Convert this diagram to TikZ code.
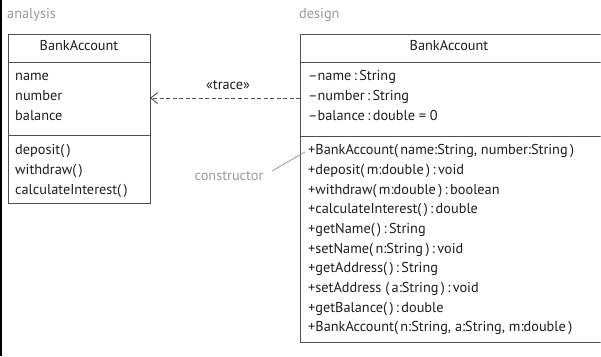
\documentclass[tikz,border=0pt]{standalone}
\usepackage{fontspec}
\setmainfont{PT Sans}
\usetikzlibrary{arrows.meta}
\definecolor{boxline}{HTML}{505050}
\definecolor{txt}{HTML}{1E1E1E}
\definecolor{lbl}{HTML}{9A9A9A}
\begin{document}
\begin{tikzpicture}[x=1pt,y=-1pt,
  every node/.style={font=\fontsize{14.3}{16}\selectfont, text=txt, inner sep=0pt,
    text height=10pt, text depth=3pt},
  member/.style={anchor=west},
  title/.style={anchor=center},
  caption/.style={anchor=west, text=lbl},
  umlbox/.style={draw=boxline, line width=0.9pt},
]
\useasboundingbox (0,0) rectangle (601,356);
\fill[white] (0,0) rectangle (601,356);
\draw[black, line width=1.5pt] (0.75,0) -- (0.75,356);

% captions
\node[caption] (an) at (7,15) {analysis};
\node[caption] (de) at (299,15) {design};

% left box
\draw[umlbox] (8,34) rectangle (150,203);
\draw[umlbox] (8,62) -- (150,62);
\draw[umlbox] (8,135) -- (150,135);
\node[title] (lt) at (79,47) {BankAccount};
\node[member] (l1) at (15,77) {name};
\node[member] (l2) at (15,97) {number};
\node[member] (l3) at (15,117) {balance};
\node[member] (l4) at (15,151) {deposit(\,)};
\node[member] (l5) at (15,171) {withdraw(\,)};
\node[member] (l6) at (15,190.5) {calculateInterest(\,)};
\coordinate (lr) at (150,98);

% right box
\begin{scope}
\clip (0,0) rectangle (600.5,356);
\draw[umlbox] (300,34) rectangle (606,342);
\draw[umlbox] (300,62) -- (606,62);
\draw[umlbox] (300,136) -- (606,136);
\end{scope}
\node[title] (rt) at (449,47) {BankAccount};
\node[member] (r1) at (308,77) {–name\,:\,String};
\node[member] (r2) at (308,97) {–number\,:\,String};
\node[member] (r3) at (308,117) {–balance\,:\,double = 0};
\node[member] (m1) at (308,151) {+BankAccount(\,name:String, number:String\,)};
\node[member] (m2) at (308,171) {+deposit(\,m:double\,)\,:\,void};
\node[member] (m3) at (308,190.5) {+withdraw(\,m:double\,)\,:\,boolean};
\node[member] (m4) at (308,210) {+calculateInterest(\,)\,:\,double};
\node[member] (m5) at (308,230) {+getName(\,)\,:\,String};
\node[member] (m6) at (308,249.5) {+setName(\,n:String\,)\,:\,void};
\node[member] (m7) at (308,269) {+getAddress(\,)\,:\,String};
\node[member] (m8) at (308,289) {+setAddress (\,a:String\,)\,:\,void};
\node[member] (m9) at (308,308.5) {+getBalance(\,)\,:\,double};
\node[member] (m10) at (308,328) {+BankAccount(\,n:String, a:String, m:double\,)};
\coordinate (rl) at (300,98);

% trace dependency
\draw[boxline, line width=0.8pt, dashed, dash pattern=on 4pt off 2.5pt,
  -{Straight Barb[length=7pt,width=11pt,line width=0.9pt]}] (rl) -- (lr);
\node (tr) at (228,86) {«trace»};

% constructor note
\node[caption, anchor=center] (co) at (229,177) {constructor};
\coordinate (cp) at (305,152);
\draw[lbl, line width=0.8pt] (272,171) -- (cp);
\end{tikzpicture}
\end{document}
